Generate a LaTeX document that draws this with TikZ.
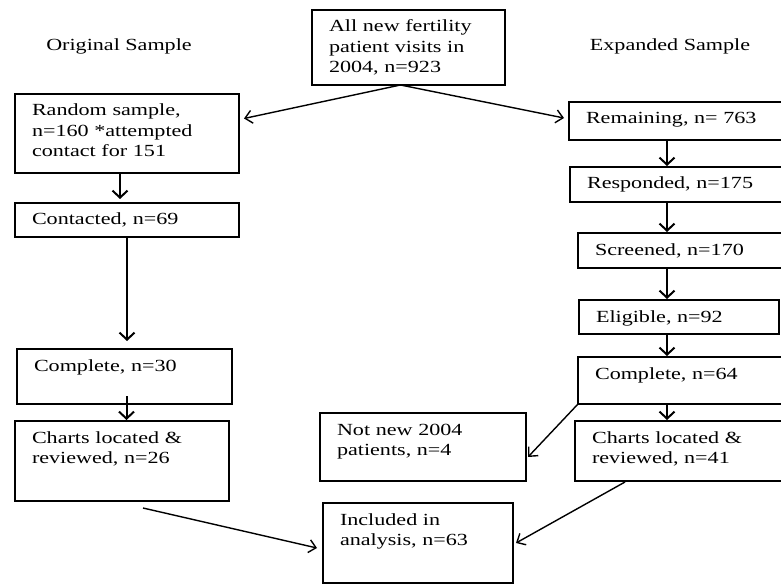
\documentclass[tikz,border=0pt]{standalone}
\usepackage{fontspec}
\setmainfont{Liberation Serif}[FakeStretch=1.3]
\usetikzlibrary{arrows.meta, calc}
\tikzset{
    fbox/.style={draw, line width=2.8pt, anchor=north west, align=left,
                 inner xsep=17pt, inner ysep=0pt, outer sep=0pt,
                 text height=22pt, font=\fontsize{17pt}{20.5pt}\selectfont},
    head/.style={font=\fontsize{17pt}{20.5pt}\selectfont},
    flow/.style={-{Straight Barb[length=7pt,width=15pt]}, line width=2pt,
                 shorten >=1pt},
    slant/.style={-{Straight Barb[length=7pt,width=13pt]}, line width=1.4pt},
}
\begin{document}
\begin{tikzpicture}[x=1pt, y=-1pt]
    \useasboundingbox (0,0) rectangle (781,585);
    \node[head] (orig) at (119,46) {Original Sample};
    \node[head] (expd) at (670,46) {Expanded Sample};
    \node[fbox, text width=159pt, text depth=53pt] (top) at (312,10)
        {All new fertility\\patient visits in\\2004, n=923};
    \node[fbox, text width=190pt, text depth=57pt] (rand) at (15,94)
        {Random sample,\\n=160 *attempted\\contact for 151};
    \node[fbox, text width=190pt, text depth=12pt] (contact) at (15,203)
        {Contacted, n=69};
    \node[fbox, text width=181pt, text depth=33pt] (comp30) at (17,349)
        {Complete, n=30};
    \node[fbox, text width=180pt, text depth=58pt] (charts26) at (15,421)
        {Charts located \&\\reviewed, n=26};
    \node[fbox, text width=172pt, text depth=46pt] (notnew) at (320,413)
        {Not new 2004\\patients, n=4};
    \node[fbox, text width=156pt, text depth=58pt] (incl) at (323,503)
        {Included in\\analysis, n=63};
    \node[fbox, text width=206pt, text depth=16pt] (remain) at (569,102)
        {Remaining, n= 763};
    \node[fbox, text width=206pt, text depth=13pt] (resp) at (570,167)
        {Responded, n=175};
    \node[fbox, text width=206pt, text depth=13pt] (screen) at (578,233)
        {Screened, n=170};
    \node[fbox, text width=166pt, text depth=12pt] (elig) at (579,300)
        {Eligible, n=92};
    \node[fbox, text width=206pt, text depth=25pt] (comp64) at (578,357)
        {Complete, n=64};
    \node[fbox, text width=206pt, text depth=38pt] (charts41) at (575,421)
        {Charts located \&\\reviewed, n=41};
    \coordinate (fork) at ([xshift=-8pt]top.south);
    \coordinate (rcol) at (667,0);
    \draw[slant] (fork) -- ([xshift=5pt,yshift=15pt]rand.east);
    \draw[slant] (fork) -- ([xshift=-5pt,yshift=3pt]remain.west);
    \draw[flow] ([xshift=-7pt]rand.south) -- ([xshift=-7pt,yshift=3pt]contact.north);
    \draw[flow, shorten >=8pt] (contact.south) -- (contact.south |- comp30.north);
    \draw[flow] ([xshift=2pt,yshift=8pt]comp30.south) -- ([xshift=2pt]comp30.south |- charts26.north);
    \draw[slant] ([xshift=21pt,yshift=-7pt]charts26.south) -- ([xshift=-6pt,yshift=-5pt]incl.west);
    \draw[flow] (remain.south -| rcol) -- (resp.north -| rcol);
    \draw[flow] (resp.south -| rcol) -- (screen.north -| rcol);
    \draw[flow] (screen.south -| rcol) -- (elig.north -| rcol);
    \draw[flow] (elig.south -| rcol) -- (comp64.north -| rcol);
    \draw[flow] (comp64.south -| rcol) -- (charts41.north -| rcol);
    \draw[slant] (comp64.south west) -- ([xshift=2pt,yshift=-10pt]notnew.east);
    \draw[slant] ([xshift=50pt,yshift=-1pt]charts41.south west) -- ([xshift=3pt]incl.east);
\end{tikzpicture}
\end{document}
